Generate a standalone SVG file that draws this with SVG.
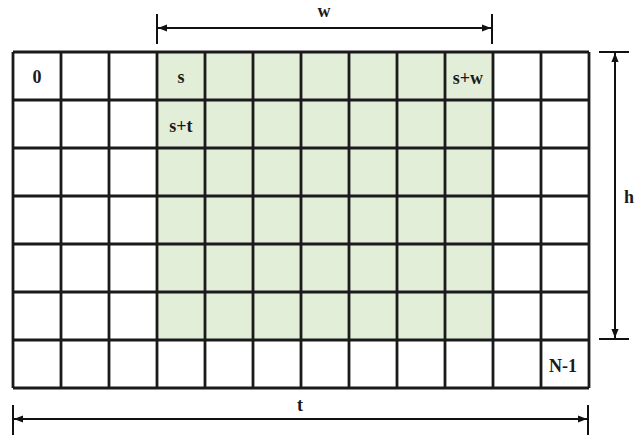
<svg xmlns="http://www.w3.org/2000/svg" width="644" height="437" viewBox="0 0 644 437">
<style>
.grid{stroke:#1a1a1a;stroke-width:2.8;fill:none}
.dim{stroke:#111;stroke-width:2;fill:none}
.lbl{font-family:"Liberation Serif","Times New Roman",serif;font-weight:bold;font-size:18px;fill:#1a1a1a;text-anchor:middle}
</style>
<defs>
<marker id="ah" viewBox="0 0 10 8" refX="10" refY="4" markerWidth="4.5" markerHeight="3.6" markerUnits="strokeWidth" orient="auto-start-reverse">
<path d="M0,0 L10,4 L0,8 Z" fill="#111"/>
</marker>
</defs>
<rect width="644" height="437" fill="#fff"/>
<g id="region">
<rect x="157" y="52" width="336" height="288" fill="#e2eed8"/>
</g>
<g id="grid" class="grid">
<path d="M13,52V388M61,52V388M109,52V388M157,52V388M205,52V388M253,52V388M301,52V388M349,52V388M397,52V388M445,52V388M493,52V388M541,52V388M589,52V388"/>
<path d="M13,52H589M13,100H589M13,148H589M13,196H589M13,244H589M13,292H589M13,340H589M13,388H589"/>
</g>
<g id="labels">
<text class="lbl" x="37" y="83">0</text>
<text class="lbl" x="181" y="83">s</text>
<text class="lbl" x="468" y="84">s+w</text>
<text class="lbl" x="181" y="132">s+t</text>
<text class="lbl" x="563" y="372">N-1</text>
</g>
<g id="connectors">
<g id="dim-w">
<path class="dim" d="M157,14V44M492,14V44"/>
<path class="dim" d="M158,28H491" marker-start="url(#ah)" marker-end="url(#ah)"/>
<text class="lbl" x="324" y="17">w</text>
</g>
<g id="dim-t">
<path class="dim" d="M13,405V435M588,405V435"/>
<path class="dim" d="M14,419H587" marker-start="url(#ah)" marker-end="url(#ah)"/>
<text class="lbl" x="300" y="411">t</text>
</g>
<g id="dim-h">
<path class="dim" d="M599,52H629M599,339H629"/>
<path class="dim" d="M615,53V338" marker-start="url(#ah)" marker-end="url(#ah)"/>
<text class="lbl" x="629" y="203">h</text>
</g>
</g>
</svg>
